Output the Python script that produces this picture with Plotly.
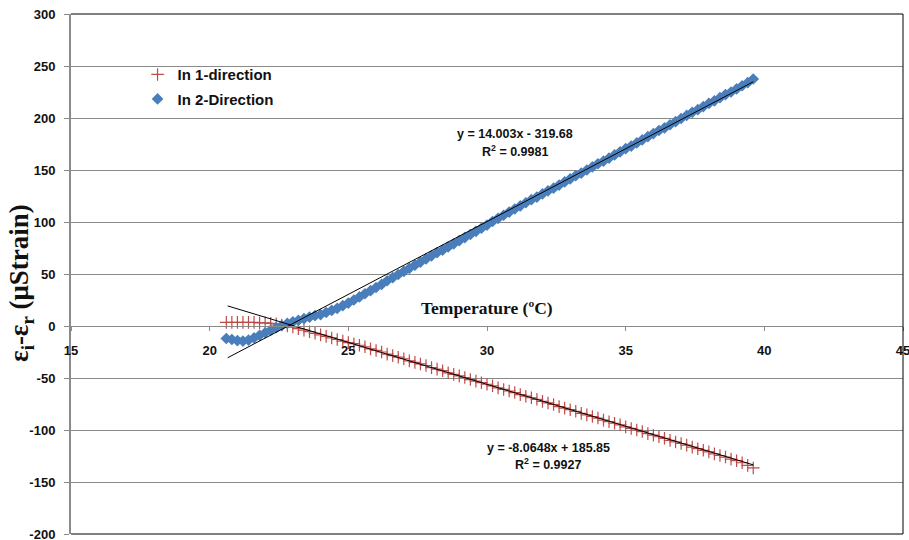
import plotly.graph_objects as go

# Temperature readings (°C) and strain difference (µStrain) for both directions
temp = [20.6, 20.8, 21.0, 21.2, 21.4, 21.6, 21.8, 22.0, 22.2, 22.4,
        22.6, 22.8, 23.0, 23.2, 23.4, 23.6, 23.8, 24.0, 24.2, 24.4,
        24.6, 24.8, 25.0, 25.2, 25.4, 25.6, 25.8, 26.0, 26.2, 26.4,
        26.6, 26.8, 27.0, 27.2, 27.4, 27.6, 27.8, 28.0, 28.2, 28.4,
        28.6, 28.8, 29.0, 29.2, 29.4, 29.6, 29.8, 30.0, 30.2, 30.4,
        30.6, 30.8, 31.0, 31.2, 31.4, 31.6, 31.8, 32.0, 32.2, 32.4,
        32.6, 32.8, 33.0, 33.2, 33.4, 33.6, 33.8, 34.0, 34.2, 34.4,
        34.6, 34.8, 35.0, 35.2, 35.4, 35.6, 35.8, 36.0, 36.2, 36.4,
        36.6, 36.8, 37.0, 37.2, 37.4, 37.6, 37.8, 38.0, 38.2, 38.4,
        38.6, 38.8, 39.0, 39.2, 39.4, 39.6]

strain_dir1 = [3.5, 3.5, 3.5, 3.5, 3.5, 3.5, 3.0, 3.0, 2.5, 2.0,
               1.0, 0.0, -1.0, -2.5, -4.0, -5.5, -7.0, -8.5, -10.0, -11.5,
               -13.0, -14.5, -16.0, -17.0, -18.5, -20.0, -22.0, -23.5, -25.0, -27.0,
               -28.5, -30.0, -31.5, -33.5, -35.0, -36.5, -38.0, -40.0, -41.5, -43.0,
               -45.0, -46.5, -48.0, -49.5, -51.5, -53.0, -54.5, -56.0, -57.5, -59.5,
               -61.0, -62.5, -64.0, -66.0, -67.5, -69.0, -70.5, -72.5, -74.0, -75.5,
               -77.5, -79.0, -80.5, -82.0, -84.0, -85.5, -87.0, -88.5, -90.5, -92.0,
               -93.5, -95.0, -97.0, -98.5, -100.0, -101.5, -103.5, -105.0, -106.5, -108.0,
               -110.0, -111.5, -113.0, -114.5, -116.5, -118.0, -119.5, -121.0, -123.0, -124.5,
               -126.0, -128.0, -129.5, -131.5, -134.0, -136.5]

strain_dir2 = [-12.0, -13.0, -14.0, -14.5, -13.5, -11.5, -9.0, -6.5, -4.0, -1.5,
               0.5, 2.5, 4.0, 5.5, 7.0, 8.5, 10.0, 11.0, 13.0, 15.0,
               17.0, 19.5, 22.0, 25.0, 28.0, 31.0, 34.0, 37.0, 40.0, 43.5,
               46.5, 49.5, 52.5, 55.5, 58.5, 61.5, 64.5, 67.5, 70.5, 73.0,
               76.0, 79.0, 82.0, 85.0, 88.0, 91.0, 94.0, 97.0, 100.5, 103.5,
               106.5, 109.5, 112.5, 115.5, 118.5, 121.5, 124.0, 127.0, 130.0, 132.5,
               135.5, 138.5, 141.5, 144.5, 147.0, 150.0, 153.0, 156.0, 158.5, 161.5,
               164.5, 167.5, 170.5, 173.0, 176.0, 179.0, 182.0, 185.0, 188.0, 190.5,
               193.5, 196.5, 199.5, 202.5, 205.5, 208.0, 211.0, 214.0, 216.5, 219.5,
               222.5, 225.0, 228.0, 231.0, 234.0, 237.5]

# Linear fit coefficients (slope, intercept) and R² for each direction
fit_dir1 = (-8.0648, 185.85, 0.9927)
fit_dir2 = (14.003, -319.68, 0.9981)
fit_span = [20.65, 39.6]

x_ticks = [15, 20, 25, 30, 35, 40, 45]
y_ticks = [-200, -150, -100, -50, 0, 50, 100, 150, 200, 250, 300]

RED = "#BE4B48"
BLUE = "#4A7EBB"
GRID = "#8A8A8A"
TICK_FONT = dict(family="Liberation Sans, Arial", size=13, color="#111111", weight="bold")

fig = go.Figure()

fig.add_trace(go.Scatter(
    x=temp, y=strain_dir1, mode="markers", name="In 1-direction",
    legendgroup="d1",
    marker=dict(symbol="cross-thin", size=9, color=RED, line=dict(width=1.2, color=RED)),
))
fig.add_trace(go.Scatter(
    x=temp, y=strain_dir2, mode="markers", name="In 2-Direction",
    legendgroup="d2",
    marker=dict(symbol="diamond", size=9, color=BLUE, line=dict(width=0)),
))

# Trend lines evaluated from the stated fit equations
for slope, icpt, _ in (fit_dir1, fit_dir2):
    fig.add_trace(go.Scatter(
        x=fit_span, y=[slope * v + icpt for v in fit_span], mode="lines",
        line=dict(color="#000000", width=1), showlegend=False, hoverinfo="skip",
    ))

fig.update_layout(
    width=909, height=540,
    margin=dict(l=71, r=6, t=14, b=6),
    paper_bgcolor="white", plot_bgcolor="white",
    showlegend=True,
    legend=dict(
        x=0.080, y=0.915, xanchor="left", yanchor="top",
        bgcolor="rgba(0,0,0,0)", borderwidth=0, tracegroupgap=2,
        font=dict(family="Liberation Sans, Arial", size=15, color="#111111", weight="bold"),
    ),
    xaxis=dict(
        range=[15, 45], tickvals=x_ticks, ticktext=[str(v) for v in x_ticks],
        anchor="free", position=0.4, automargin=False,
        showline=True, linecolor=GRID, linewidth=1,
        ticks="outside", ticklen=4, tickcolor=GRID, tickwidth=1,
        ticklabelstandoff=8, ticklabeloverflow="allow",
        showgrid=False, zeroline=False, tickfont=TICK_FONT,
    ),
    yaxis=dict(
        range=[-200, 300], tickvals=y_ticks, ticktext=[str(v) for v in y_ticks],
        automargin=False,
        showline=True, linecolor=GRID, linewidth=2,
        ticks="outside", ticklen=5, tickcolor=GRID, tickwidth=1,
        ticklabelstandoff=6, ticklabeloverflow="allow",
        showgrid=True, gridcolor=GRID, gridwidth=1, zeroline=False,
        tickfont=TICK_FONT,
    ),
    shapes=[
        dict(type="line", xref="paper", yref="paper", x0=0, x1=1, y0=1, y1=1,
             line=dict(color="#000000", width=1)),
        dict(type="line", xref="paper", yref="paper", x0=1, x1=1, y0=0, y1=1,
             line=dict(color="#000000", width=1)),
        dict(type="line", xref="paper", yref="paper", x0=0, x1=1, y0=0, y1=0,
             line=dict(color="#000000", width=1)),
    ],
)

EQ_FONT = dict(family="Liberation Sans, Arial", size=12.5, color="#111111", weight="bold")
annotations = [
    dict(text="ε<sub>i</sub>-ε<sub>r</sub> (μStrain)", textangle=-90,
         x=-0.06, y=0.483, xref="paper", yref="paper", showarrow=False,
         xanchor="center", yanchor="middle",
         font=dict(family="Liberation Serif, Times New Roman", size=27, color="#111111", weight="bold")),
    dict(text="Temperature (ºC)", x=30, y=17, xref="x", yref="y", showarrow=False,
         xanchor="center", yanchor="middle",
         font=dict(family="Liberation Serif, Times New Roman", size=17.5, color="#111111", weight="bold")),
    dict(text=f"y = {fit_dir2[0]:.3f}x - {abs(fit_dir2[1]):.2f}", x=31.0, y=185, xref="x", yref="y",
         showarrow=False, xanchor="center", yanchor="middle", font=EQ_FONT),
    dict(text=f"R<sup>2</sup> = {fit_dir2[2]:.4f}", x=31.0, y=168.5, xref="x", yref="y",
         showarrow=False, xanchor="center", yanchor="middle", font=EQ_FONT),
    dict(text=f"y = {fit_dir1[0]:.4f}x + {fit_dir1[1]:.2f}", x=32.2, y=-117, xref="x", yref="y",
         showarrow=False, xanchor="center", yanchor="middle", font=EQ_FONT),
    dict(text=f"R<sup>2</sup> = {fit_dir1[2]:.4f}", x=32.2, y=-133, xref="x", yref="y",
         showarrow=False, xanchor="center", yanchor="middle", font=EQ_FONT),
]
fig.update_layout(annotations=annotations)

fig.write_html("out.html", config={"displayModeBar": False})
